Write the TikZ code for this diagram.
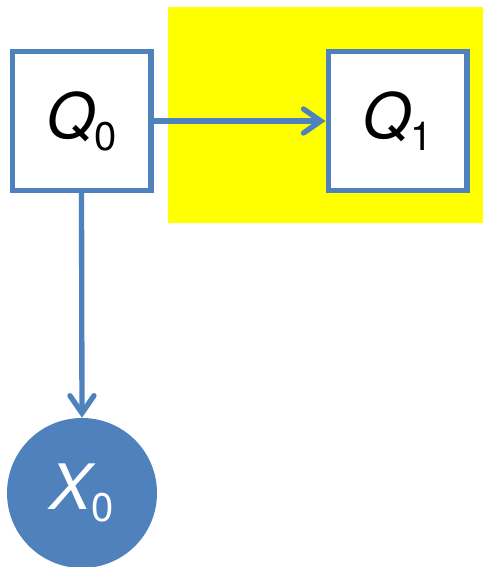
\documentclass[tikz,border=0pt]{standalone}
\usepackage{fontspec}
\setmainfont{TeX Gyre Heros}
\usetikzlibrary{arrows.meta}
\definecolor{nodeblue}{HTML}{4F81BD}
\definecolor{hiyellow}{HTML}{FFFF00}
\newcommand{\lbl}[2]{{\fontsize{47}{47}\selectfont\itshape #1}\raisebox{-9pt}{\fontsize{30}{30}\selectfont #2}}
\begin{document}
\begin{tikzpicture}[x=0.75pt,y=-0.75pt,
  qbox/.style={draw=nodeblue, line width=4pt, fill=white, minimum size=104pt, inner sep=0pt},
  xcirc/.style={circle, fill=nodeblue, minimum size=112.5pt, inner sep=0pt, text=white},
  edge/.style={draw=nodeblue, line width=4pt, -{Straight Barb[length=13pt, width=18pt, line cap=round]}}]
\useasboundingbox (0,0) rectangle (483,567);
\fill[hiyellow] (168,7) rectangle (483,223);
\node[qbox] (q0) at (81.5,121) {\lbl{Q}{0}};
\node[qbox] (q1) at (397.5,121) {\lbl{Q}{1}};
\node[xcirc] (x0) at (82,493) {\lbl{X}{0}};
\draw[edge] (q0.east) -- (q1.west);
\draw[edge] (q0.south) -- (x0.north);
\end{tikzpicture}
\end{document}
